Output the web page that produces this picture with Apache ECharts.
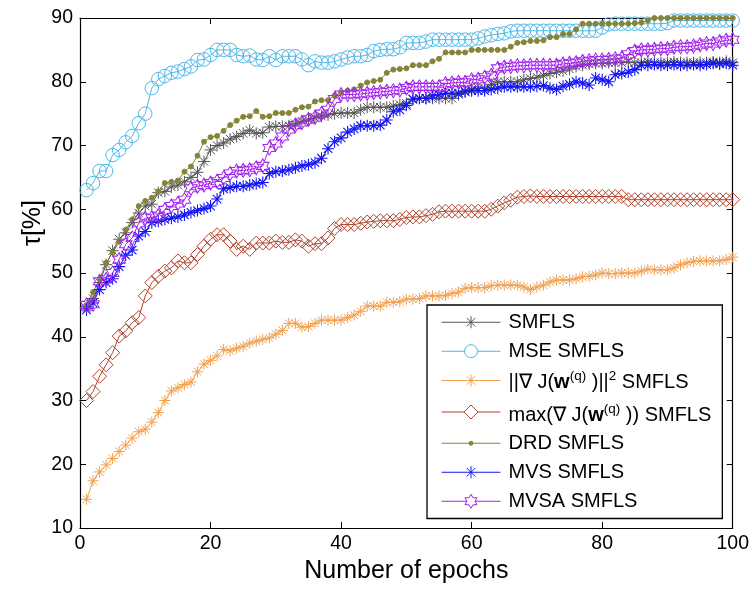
<!DOCTYPE html>
<html><head><meta charset="utf-8">
<script src="https://cdn.jsdelivr.net/npm/echarts@6.0.0/dist/echarts.min.js"></script>
<style>html,body{margin:0;padding:0;background:#fff}#c{width:752px;height:590px}</style>
</head><body><div id="c"></div>
<script>
const epochs = [1,2,3,4,5,6,7,8,9,10,11,12,13,14,15,16,17,18,19,20,21,22,23,24,25,26,27,28,29,30,31,32,33,34,35,36,37,38,39,40,41,42,43,44,45,46,47,48,49,50,51,52,53,54,55,56,57,58,59,60,61,62,63,64,65,66,67,68,69,70,71,72,73,74,75,76,77,78,79,80,81,82,83,84,85,86,87,88,89,90,91,92,93,94,95,96,97,98,99,100];

const smfls = [44.5,46.0,48.5,51.3,53.5,55.3,56.3,57.9,59.4,60.5, 60.8,62.6,62.8,63.5,63.8,64.3,65.0,65.8,67.5,69.3, 70.0,70.4,71.0,71.4,71.9,72.4,71.9,72.0,72.9,73.0, 73.0,73.1,73.4,73.8,74.0,74.3,74.6,74.8,75.0,75.1, 75.1,75.1,75.6,76.0,76.0,76.0,76.0,76.2,76.4,76.6, 77.2,77.4,77.4,77.4,77.4,77.4,77.4,78.0,78.4,78.8, 79.0,79.0,79.6,80.0,80.0,80.0,80.0,80.3,80.5,80.7, 81.0,81.3,81.5,81.7,82.0,82.4,82.6,82.8,82.9,82.9, 83.0,83.0,83.0,83.1,83.0,83.0,83.1,83.0,83.0,83.0, 83.1,83.0,83.0,83.0,83.0,83.0,83.1,83.0,83.2,83.0];

const mseSmfls = [63.0,64.1,66.0,66.0,68.5,69.3,70.5,71.5,73.5,75.0, 79.0,80.4,80.9,81.4,81.6,82.0,82.4,83.4,83.5,84.2, 85.0,85.0,85.0,84.2,84.0,84.1,83.5,83.4,84.0,83.4, 84.0,84.0,84.0,83.5,82.6,83.2,83.0,83.0,83.2,83.5, 83.8,84.0,84.0,84.2,84.8,85.0,85.1,85.1,85.4,86.1, 86.1,86.1,86.3,86.6,86.6,86.6,86.6,86.6,86.6,86.6, 86.8,87.1,87.3,87.5,87.6,87.9,88.0,88.0,88.0,88.0, 88.0,88.0,88.0,88.0,88.0,88.0,88.0,88.0,88.0,88.5, 89.0,89.1,89.1,89.1,89.1,89.1,89.1,89.1,89.1,89.2, 89.6,89.6,89.6,89.6,89.6,89.6,89.6,89.6,89.6,89.6];

const gradNormSmfls = [14.5,17.4,18.8,19.9,20.9,22.0,23.0,24.1,25.1,25.5, 26.6,28.1,30.0,31.5,32.0,32.5,32.9,34.5,35.7,36.3, 37.0,38.0,37.8,38.2,38.5,39.0,39.3,39.6,39.8,40.4, 41.0,42.1,42.1,41.5,41.6,42.1,42.6,42.6,42.6,42.6, 43.0,43.4,44.0,44.8,44.8,44.8,45.4,45.4,45.5,45.9, 45.9,46.0,46.4,46.4,46.4,46.5,46.8,47.0,47.6,47.7, 47.7,47.7,48.0,48.1,48.1,48.1,48.1,47.8,47.4,47.8, 48.1,48.6,48.9,48.9,48.9,49.1,49.4,49.5,49.7,50.0, 49.9,49.9,50.0,50.0,50.0,50.3,50.6,50.5,50.5,50.5, 50.8,51.3,51.6,51.8,51.9,51.9,51.9,51.9,52.1,52.5];

const maxGradSmfls = [30.0,31.4,33.8,35.6,37.5,40.1,40.9,42.2,43.0,46.4, 48.5,49.5,50.3,50.8,51.9,51.6,51.6,52.9,54.2,55.3, 56.0,56.0,55.0,53.7,54.2,53.7,54.7,54.7,54.7,55.0, 54.8,54.8,55.2,55.0,54.2,54.6,54.6,55.5,57.0,57.6, 57.6,57.6,57.8,58.0,58.1,58.2,58.2,58.2,58.4,58.7, 58.8,58.8,59.0,59.2,59.6,59.7,59.7,59.7,59.7,59.7, 59.7,59.7,60.0,60.5,61.0,61.4,61.9,62.0,62.1,62.0, 62.0,62.0,62.0,62.0,62.0,62.0,62.0,62.0,62.0,62.0, 62.0,62.0,62.0,61.5,61.5,61.5,61.5,61.5,61.5,61.5, 61.5,61.5,61.5,61.5,61.5,61.5,61.5,61.5,61.5,61.5];

const drdSmfls = [45.0,47.0,49.0,51.6,53.2,55.0,56.8,58.4,60.5,61.3, 61.8,62.8,64.1,64.3,64.5,65.9,66.7,68.4,70.6,71.3, 71.5,72.3,73.2,73.9,74.5,74.6,75.4,74.5,74.6,75.1, 75.1,75.1,75.6,76.0,76.1,76.9,77.1,77.1,77.8,78.3, 78.6,78.8,79.4,79.9,80.1,80.3,81.4,81.9,82.0,82.1, 82.6,82.6,82.6,83.2,83.6,84.6,84.6,84.6,84.6,85.0, 85.0,85.0,85.0,85.0,85.0,85.5,86.1,86.2,86.4,86.4, 86.5,87.0,87.0,87.5,87.5,88.2,89.1,89.1,89.1,89.1, 89.1,89.1,89.1,89.1,89.2,89.3,89.6,90.0,90.0,90.0, 90.0,90.0,90.0,90.0,90.0,90.0,90.0,90.0,90.0,90.0];

const mvsSmfls = [44.2,45.3,47.4,48.5,49.1,51.0,52.8,53.6,55.8,56.5, 57.9,58.1,58.4,58.6,58.8,59.1,59.5,59.8,60.1,60.5, 61.6,63.2,63.4,63.6,63.6,63.8,64.0,64.2,65.6,65.9, 66.0,66.2,66.5,66.8,67.0,67.3,68.0,69.5,70.6,71.2, 72.1,72.6,73.1,73.1,73.1,73.2,74.0,75.3,75.6,76.3, 77.3,77.4,77.4,77.8,78.0,78.2,78.2,78.2,78.5,78.6, 78.6,78.6,78.8,79.0,79.2,79.2,79.2,79.2,79.2,79.3, 79.4,79.0,78.8,79.3,79.6,80.0,79.8,79.5,80.6,80.3, 80.0,81.1,81.3,81.5,81.9,82.6,82.6,82.7,82.6,82.6, 82.7,82.6,82.6,82.7,82.6,82.7,82.9,82.8,82.9,82.6];

const mvsaSmfls = [45.0,45.1,48.7,49.0,50.0,52.1,54.5,55.5,57.8,58.6, 58.7,59.0,59.9,60.5,60.9,61.5,63.3,63.6,63.8,64.1, 64.4,64.9,65.6,66.0,66.1,66.2,66.5,66.8,69.6,70.3, 71.4,72.5,73.2,73.6,74.1,74.4,75.0,75.6,77.3,78.0, 78.0,78.0,78.1,78.2,78.3,78.4,78.5,78.6,78.7,79.0, 79.2,79.2,79.2,79.2,79.2,79.7,79.8,79.9,79.9,80.3, 80.4,80.7,81.0,82.1,82.3,82.4,82.5,82.5,82.6,82.6, 82.6,82.6,82.6,82.8,82.9,83.0,83.2,83.3,83.4,83.4, 83.5,83.6,83.7,84.3,84.8,85.0,85.0,85.1,85.2,85.2, 85.4,85.5,85.5,85.6,85.8,86.0,86.0,86.3,86.5,86.6];

const seriesNames = ['SMFLS', 'MSE SMFLS', 'GRADNORM', 'MAXGRAD', 'DRD SMFLS', 'MVS SMFLS', 'MVSA SMFLS'];
const legendLabels = {
  'SMFLS': 'SMFLS',
  'MSE SMFLS': 'MSE SMFLS',
  'GRADNORM': '{m|||∇ J(}{b|w}{s|(q)}{m| )||}{s|2}{m| SMFLS}',
  'MAXGRAD': '{m|max(∇ J(}{b|w}{s|(q)}{m| )) SMFLS}',
  'DRD SMFLS': 'DRD SMFLS',
  'MVS SMFLS': 'MVS SMFLS',
  'MVSA SMFLS': 'MVSA SMFLS'
};
const xMin = 0, xMax = 100, xStep = 20;
const yMin = 10, yMax = 90, yStep = 10;

const FONT = '"Liberation Sans", Arial, Helvetica, sans-serif';
const C = {
  gray: '#555555', cyan: '#4db8e8', orange: '#f0a050', brick: '#b0432c',
  olive: '#85853a', blue: '#1414f5', purple: '#a322ee'
};
const AST = 'path://M10 0 L10 20 M0 10 L20 10 M2.93 2.93 L17.07 17.07 M17.07 2.93 L2.93 17.07';
const HEX = 'path://M50 0 L64.43 25 L93.3 25 L78.87 50 L93.3 75 L64.43 75 L50 100 L35.57 75 L6.7 75 L21.13 50 L6.7 25 L35.57 25 Z';

const icons = {
  ast: 'path://M0 7 L59 7 M29.5 1 L29.5 13 M25.26 2.76 L33.74 11.24 M33.74 2.76 L25.26 11.24',
  circ: 'path://M0 7 L23 7 M36 7 L59 7 M23 7 A6.5 6.5 0 1 1 36 7 A6.5 6.5 0 1 1 23 7 Z',
  dia: 'path://M0 7 L22.5 7 M36.5 7 L59 7 M29.5 0 L36.5 7 L29.5 14 L22.5 7 Z',
  dot: 'path://M0 7 L59 7 M27.5 7 A2 2 0 1 1 31.5 7 A2 2 0 1 1 27.5 7 Z',
  hex: 'path://M0 7 L25.46 7 M33.54 7 L59 7 M29.5 0 L31.52 3.5 L35.56 3.5 L33.54 7 L35.56 10.5 L31.52 10.5 L29.5 14 L27.48 10.5 L23.44 10.5 L25.46 7 L23.44 3.5 L27.48 3.5 Z'
};

function mk(name, vals, symbol, size, color, filled, bw) {
  return {
    name: name, type: 'line', data: epochs.map((e, i) => [e, vals[i]]),
    symbol: symbol, symbolSize: size, showSymbol: true, showAllSymbol: true,
    clip: false, silent: true, animation: false,
    lineStyle: { color: color, width: 1 },
    itemStyle: { color: filled ? color : 'none', borderColor: color, borderWidth: bw || 1 },
    emphasis: { disabled: true }
  };
}

const series = [
  mk(seriesNames[0], smfls, AST, 12, C.gray, false, 1),
  mk(seriesNames[1], mseSmfls, 'circle', 13.5, C.cyan, false, 1),
  mk(seriesNames[2], gradNormSmfls, AST, 11, C.orange, false, 1),
  mk(seriesNames[3], maxGradSmfls, 'diamond', 14, C.brick, false, 1),
  mk(seriesNames[4], drdSmfls, 'circle', 5, C.olive, true, 0),
  mk(seriesNames[5], mvsSmfls, AST, 12, C.blue, false, 1.1),
  mk(seriesNames[6], mvsaSmfls, HEX, [12.5, 14], C.purple, false, 1)
];

const legendData = [
  { name: seriesNames[0], icon: icons.ast, itemStyle: { color: 'none', borderColor: C.gray, borderWidth: 1 } },
  { name: seriesNames[1], icon: icons.circ, itemStyle: { color: 'none', borderColor: C.cyan, borderWidth: 1 } },
  { name: seriesNames[2], icon: icons.ast, itemStyle: { color: 'none', borderColor: C.orange, borderWidth: 1 } },
  { name: seriesNames[3], icon: icons.dia, itemStyle: { color: 'none', borderColor: C.brick, borderWidth: 1 }, textStyle: { padding: [4, 0, 0, 3] } },
  { name: seriesNames[4], icon: icons.dot, itemStyle: { color: C.olive, borderColor: C.olive, borderWidth: 1 } },
  { name: seriesNames[5], icon: icons.ast, itemStyle: { color: 'none', borderColor: C.blue, borderWidth: 1 } },
  { name: seriesNames[6], icon: icons.hex, itemStyle: { color: 'none', borderColor: C.purple, borderWidth: 1 } }
];

const axisCommon = {
  type: 'value', splitLine: { show: false },
  axisLine: { show: true, onZero: false, lineStyle: { color: '#000', width: 1.2 } },
  axisTick: { show: true, inside: true, length: 6, lineStyle: { color: '#000', width: 1 } }
};

const chart = echarts.init(document.getElementById('c'), null, { renderer: 'canvas' });
chart.setOption({
  animation: false,
  backgroundColor: '#fff',
  grid: { left: 80, right: 18, top: 18, bottom: 62, containLabel: false },
  xAxis: [
    Object.assign({}, axisCommon, {
      min: xMin, max: xMax, interval: xStep, position: 'bottom',
      axisLabel: { color: '#000', fontSize: 19.5, fontFamily: FONT, margin: 6 },
      name: 'Number of epochs', nameLocation: 'middle', nameGap: 31,
      nameTextStyle: { color: '#000', fontSize: 25, fontFamily: FONT }
    }),
    Object.assign({}, axisCommon, {
      min: xMin, max: xMax, interval: xStep, position: 'top', axisLabel: { show: false }
    })
  ],
  yAxis: [
    Object.assign({}, axisCommon, {
      min: yMin, max: yMax, interval: yStep, position: 'left',
      axisLabel: { color: '#000', fontSize: 19.5, fontFamily: FONT, margin: 7 }
    }),
    Object.assign({}, axisCommon, {
      min: yMin, max: yMax, interval: yStep, position: 'right', axisLabel: { show: false }
    })
  ],
  legend: {
    orient: 'vertical', left: 427, top: 305, padding: [6, 11, 6, 12],
    itemWidth: 59, itemHeight: 14, itemGap: 6.5,
    borderColor: '#000', borderWidth: 1.3, backgroundColor: '#fff',
    selectedMode: false, data: legendData,
    formatter: function (n) { return legendLabels[n]; },
    textStyle: {
      color: '#000', fontSize: 20, fontFamily: FONT, lineHeight: 22.5, padding: [0, 0, 0, 3],
      rich: {
        m: { fontSize: 20, fontFamily: FONT, color: '#000', lineHeight: 22, verticalAlign: 'bottom' },
        b: { fontSize: 20, fontFamily: FONT, color: '#000', fontWeight: 'bold', lineHeight: 22, verticalAlign: 'bottom' },
        s: { fontSize: 13.5, fontFamily: FONT, color: '#000', lineHeight: 23, verticalAlign: 'top' }
      }
    }
  },
  graphic: [{
    type: 'text', left: 21, top: 200, rotation: Math.PI / 2,
    style: { text: 'τ[%]', font: '25px ' + FONT, fill: '#000' }
  }],
  series: series
});
</script></body></html>
